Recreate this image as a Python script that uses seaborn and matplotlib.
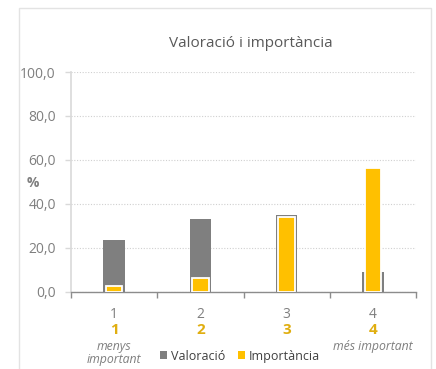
import matplotlib
matplotlib.use("Agg")
import matplotlib.pyplot as plt
import seaborn as sns
import pandas as pd
from matplotlib.patches import Patch, Rectangle
from matplotlib.ticker import FuncFormatter

categories = ["1", "2", "3", "4"]
valoracio = [23.7, 33.2, 35.0, 9.0]
importancia = [2.4, 6.4, 34.0, 56.5]
gold_labels = ["1", "2", "3", "4"]
descriptors = ["menys\nimportant", "", "", "més important"]
title = "Valoració i importància"
series_names = ["Valoració", "Importància"]

sns.set_theme(style="white")
plt.rcParams["font.family"] = ["Open Sans", "DejaVu Sans"]

GREY = "#7F7F7F"
YELLOW = "#FFC000"
TXT = "#7F7F7F"
GOLD = "#E0AE10"

df = pd.DataFrame({"cat": categories, "val": valoracio, "imp": importancia})

fig = plt.figure(figsize=(4.36, 3.69), dpi=100)
fig.patch.set_facecolor("white")
ax = fig.add_axes([0.163, 0.2095, 0.791, 0.5953])

sns.barplot(data=df, x="cat", y="val", color=GREY, width=0.25, saturation=1,
            ax=ax, zorder=2, linewidth=0)
sns.barplot(data=df, x="cat", y="imp", color=YELLOW, width=0.19, saturation=1,
            ax=ax, zorder=3, edgecolor="white", linewidth=1.3)

ax.set_xlim(-0.5, 3.5)
ax.set_ylim(0, 100)
ax.set_yticks([0, 20, 40, 60, 80, 100])
ax.yaxis.set_major_formatter(FuncFormatter(lambda v, p: f"{v:.1f}".replace(".", ",")))
ax.grid(axis="y", color="#D0D0D0", linestyle=(0, (1, 1.5)), linewidth=0.8, zorder=0)
ax.set_axisbelow(True)

for s in ["top", "right"]:
    ax.spines[s].set_visible(False)
ax.spines["left"].set_color("#D9D9D9")
ax.spines["left"].set_linewidth(1.2)
ax.spines["bottom"].set_color("#8C8C8C")
ax.spines["bottom"].set_linewidth(1.0)

ax.set_xticks([-0.5, 0.5, 1.5, 2.5, 3.5], minor=False)
ax.set_xticklabels([])
ax.set_xticks(range(len(categories)), minor=True)
ax.set_xticklabels(categories, minor=True)
ax.tick_params(axis="x", which="major", direction="out", length=4, width=1,
               color="#8C8C8C", bottom=True)
ax.tick_params(axis="x", which="minor", length=0, labelsize=10, labelcolor=TXT, pad=11)
ax.tick_params(axis="y", direction="out", length=4, width=1, color="#D9D9D9",
               left=True, labelsize=10, labelcolor=TXT, pad=7)
ax.set_xlabel("")
ax.set_ylabel("")

for i, (g, d) in enumerate(zip(gold_labels, descriptors)):
    ax.annotate(g, xy=(i, 0), xycoords=("data", "axes fraction"),
                xytext=(0, -27.5), textcoords="offset points", ha="center", va="center",
                fontsize=11, fontweight="bold", color=GOLD)
    if d:
        ax.annotate(d, xy=(i, 0), xycoords=("data", "axes fraction"),
                    xytext=(0, -34.5), textcoords="offset points", ha="center", va="top",
                    fontsize=8.8, fontstyle="italic", color=TXT, linespacing=1.05)

fig.text(0.075, 0.505, "%", fontsize=10, fontweight="bold", color=TXT,
         ha="center", va="center")
fig.text(0.575, 0.882, title, fontsize=11, color="#595959", ha="center", va="center")

handles = [Patch(facecolor=GREY, edgecolor="none"), Patch(facecolor=YELLOW, edgecolor="none")]
fig.legend(handles, series_names, loc="center", bbox_to_anchor=(0.55, 0.035), ncol=2,
           frameon=False, fontsize=9, handlelength=0.6, handleheight=0.6,
           handletextpad=0.3, columnspacing=1.0, labelcolor="#404040")

fig.patches.append(Rectangle((19 / 436, -0.01), 412 / 436, 1 - 8 / 369 + 0.01,
                             transform=fig.transFigure, fill=False,
                             edgecolor="#E3E3E3", linewidth=1.0))

fig.savefig("out.png", dpi=100)
